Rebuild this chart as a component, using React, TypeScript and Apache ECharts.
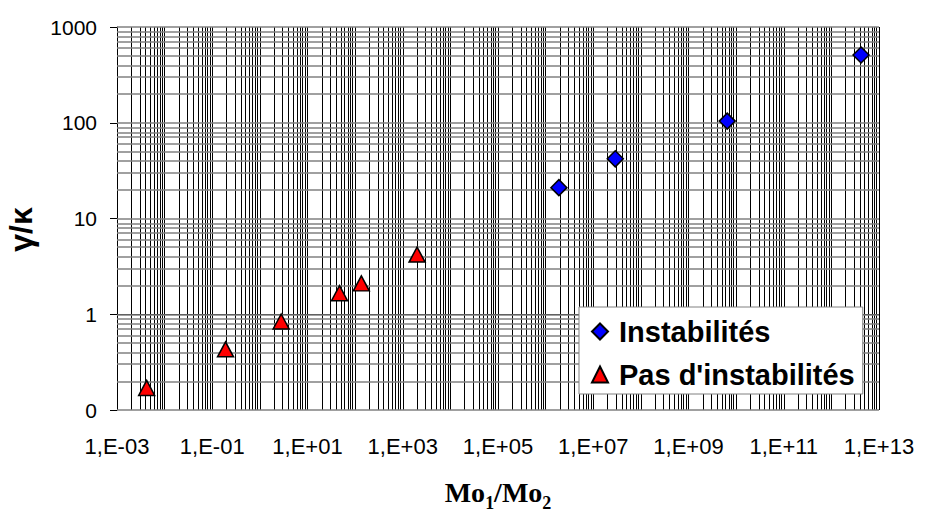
import React, { useEffect, useRef } from "react";
import * as echarts from "echarts";

// Data (raw values)
const instabRatio = [1.9e6, 2.9e7, 6.5e9, 4.2e12];
const instabGamma = [21, 42, 104, 510];
const stableRatio = [4.2e-3, 0.19, 2.8, 47, 135, 2000];
const stableGamma = [0.17, 0.43, 0.84, 1.66, 2.1, 4.2];

const seriesNames = ["Instabilités", "Pas d'instabilités"];

// axis ranges (decades)
const xMinExp = -3;
const xMaxExp = 13;
const yMinExp = -1;
const yMaxExp = 3;

const xOff = -xMinExp; // shift so that axis min is 0 (multiple of interval)
const toX = (v: number) => Math.log10(v) + xOff;
const toY = (v: number) => Math.log10(v);

const pad2 = (n: number) => (n < 10 ? "0" + n : String(n));

export default function App() {
  const ref = useRef<HTMLDivElement>(null);
  useEffect(() => {
    document.body.style.margin = "0";
    if (!ref.current) return;
    const chart = echarts.init(ref.current, undefined, { renderer: "svg" });

    const vLines: any[] = [];
    for (let n = xMinExp; n < xMaxExp; n++) {
      for (let k = 1; k <= 9; k++) {
        vLines.push({ xAxis: Math.log10(k) + n + xOff });
      }
    }
    vLines.push({ xAxis: xMaxExp + xOff });
    const hLines: any[] = [];
    for (let n = yMinExp; n < yMaxExp; n++) {
      for (let k = 1; k <= 9; k++) {
        hLines.push({ yAxis: Math.log10(k) + n });
      }
    }
    hLines.push({ yAxis: yMaxExp });

    const option: any = {
      animation: false,
      backgroundColor: "#ffffff",
      grid: {
        left: 117,
        top: 27,
        right: 55,
        bottom: 103,
        containLabel: false,
        outerBoundsMode: "none",
      },
      xAxis: {
        type: "value",
        min: 0,
        max: xMaxExp - xMinExp,
        interval: 2,
        name: "Mo{s|1}/Mo{s|2}",
        nameLocation: "middle",
        nameGap: 68,
        nameTextStyle: {
          fontFamily: "Liberation Serif",
          fontWeight: "bold",
          fontSize: 28,
          color: "#000",
          rich: {
            s: {
              fontFamily: "Liberation Serif",
              fontWeight: "bold",
              fontSize: 18,
              color: "#000",
              verticalAlign: "bottom",
              padding: [0, 0, -6, 0],
            },
          },
        },
        axisLine: { show: true, lineStyle: { color: "#000", width: 1 } },
        axisTick: { show: true, length: 7, inside: false, lineStyle: { color: "#000" } },
        splitLine: { show: false },
        axisLabel: {
          margin: 25,
          fontFamily: "Liberation Sans, Arial",
          fontSize: 22,
          color: "#000",
          formatter: (v: number) => {
            const e = Math.round(v - xOff);
            return "1,E" + (e < 0 ? "-" : "+") + pad2(Math.abs(e));
          },
        },
      },
      yAxis: {
        type: "value",
        min: yMinExp,
        max: yMaxExp,
        interval: 1,
        name: "γ/κ",
        nameLocation: "middle",
        nameGap: 80,
        nameRotate: 90,
        nameTextStyle: {
          fontFamily: "Liberation Sans, Arial",
          fontWeight: "bold",
          fontSize: 32,
          color: "#000",
          padding: [0, 22, 0, 0],
        },
        axisLine: { show: true, lineStyle: { color: "#000", width: 1 } },
        axisTick: { show: true, length: 7, inside: false, lineStyle: { color: "#000" } },
        splitLine: { show: false },
        axisLabel: {
          margin: 20,
          fontFamily: "Liberation Sans, Arial",
          fontSize: 21,
          color: "#000",
          formatter: (v: number) => {
            const e = Math.round(v);
            return e < 0 ? "0" : String(Math.pow(10, e));
          },
        },
      },
      legend: {
        data: [
          { name: seriesNames[0], icon: "diamond" },
          { name: seriesNames[1], icon: "triangle" },
        ],
        orient: "vertical",
        left: 579,
        top: 307,
        z: 20,
        itemWidth: 16,
        itemHeight: 16,
        itemGap: 14,
        padding: [10, 8, 5, 12],
        backgroundColor: "#ffffff",
        borderColor: "#808080",
        borderWidth: 1,
        borderRadius: 0,
        textStyle: {
          fontFamily: "Liberation Sans, Arial",
          fontWeight: "bold",
          fontSize: 29,
          color: "#000",
          padding: [0, 0, 0, 6],
        },
      },
      series: [
        {
          type: "line",
          name: "gridV",
          data: [],
          z: 1,
          silent: true,
          markLine: {
            silent: true,
            symbol: ["none", "none"],
            label: { show: false },
            lineStyle: { color: "#000000", width: 1, type: "solid" },
            data: vLines,
          },
        },
        {
          type: "line",
          name: "gridH",
          data: [],
          z: 1,
          silent: true,
          markLine: {
            silent: true,
            symbol: ["none", "none"],
            label: { show: false },
            lineStyle: { color: "#808080", width: 1.5, type: "solid" },
            data: hLines,
          },
        },
        {
          type: "scatter",
          name: seriesNames[0],
          z: 5,
          symbol: "diamond",
          symbolSize: 16,
          itemStyle: { color: "#0000ff", borderColor: "#000", borderWidth: 1.5, opacity: 1 },
          data: instabRatio.map((x, i) => [toX(x), toY(instabGamma[i])]),
        },
        {
          type: "scatter",
          name: seriesNames[1],
          z: 5,
          symbol: "triangle",
          symbolSize: [16, 15],
          itemStyle: { color: "#ff0000", borderColor: "#000", borderWidth: 1.5, opacity: 1 },
          data: stableRatio.map((x, i) => [toX(x), toY(stableGamma[i])]),
        },
      ],
    };
    chart.setOption(option);
    return () => chart.dispose();
  }, []);
  return <div ref={ref} style={{ width: 934, height: 513 }} />;
}
